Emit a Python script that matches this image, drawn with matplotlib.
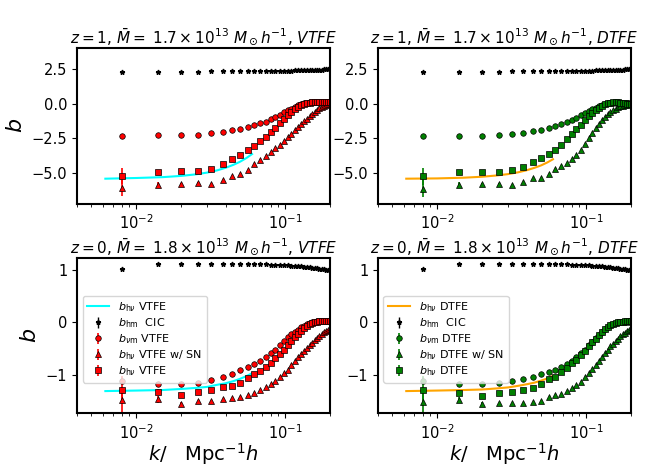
import numpy as np
import matplotlib
matplotlib.use("Agg")
import matplotlib.pyplot as plt

# k bins (h/Mpc)
k = [0.008, 0.014, 0.020, 0.026, 0.032, 0.038, 0.044, 0.050, 0.056, 0.062, 0.068,
     0.074, 0.080, 0.086, 0.092, 0.098, 0.104, 0.110, 0.116, 0.122, 0.128, 0.134,
     0.140, 0.146, 0.152, 0.158, 0.164, 0.170, 0.176, 0.182, 0.188, 0.194, 0.200]

# fit curve k values
k_fit = [0.0062, 0.01, 0.015, 0.02, 0.025, 0.03, 0.035, 0.04, 0.045, 0.05, 0.055, 0.06]

# z = 1
b_hm_z1 = [2.31, 2.31, 2.31, 2.31, 2.32, 2.32, 2.33, 2.33, 2.34, 2.34, 2.35, 2.35, 2.36,
           2.36, 2.37, 2.37, 2.38, 2.38, 2.39, 2.39, 2.40, 2.41, 2.41, 2.42, 2.42, 2.43,
           2.44, 2.44, 2.45, 2.46, 2.46, 2.47, 2.48]
b_vm_vtfe_z1 = [-2.31, -2.29, -2.29, -2.22, -2.12, -2.03, -1.93, -1.82, -1.67, -1.56, -1.42,
                -1.30, -1.13, -0.96, -0.80, -0.62, -0.48, -0.35, -0.22, -0.12, -0.03, 0.03,
                0.07, 0.09, 0.10, 0.10, 0.09, 0.08, 0.07, 0.06, 0.05, 0.05, 0.05]
b_hv_vtfe_z1 = [-5.21, -4.95, -4.88, -4.83, -4.67, -4.34, -4.01, -3.73, -3.37, -3.04, -2.69,
                -2.38, -2.03, -1.72, -1.42, -1.10, -0.82, -0.58, -0.38, -0.22, -0.10, -0.02,
                0.04, 0.08, 0.10, 0.11, 0.11, 0.11, 0.11, 0.11, 0.11, 0.11, 0.11]
b_hvsn_vtfe_z1 = [-6.08, -5.85, -5.80, -5.71, -5.75, -5.52, -5.20, -5.07, -4.75, -4.35, -4.05,
                  -3.80, -3.50, -3.22, -2.95, -2.68, -2.42, -2.17, -1.93, -1.70, -1.48, -1.27,
                  -1.07, -0.89, -0.73, -0.58, -0.45, -0.34, -0.25, -0.17, -0.10, -0.05, -0.01]
fit_vtfe_z1 = [-5.40, -5.35, -5.29, -5.20, -5.09, -4.96, -4.80, -4.61, -4.40, -4.17, -3.91, -3.63]

b_vm_dtfe_z1 = [-2.33, -2.31, -2.31, -2.26, -2.19, -2.10, -2.00, -1.89, -1.75, -1.60, -1.46,
                -1.32, -1.16, -1.00, -0.85, -0.70, -0.56, -0.42, -0.30, -0.19, -0.10, -0.03,
                0.02, 0.05, 0.07, 0.08, 0.07, 0.06, 0.05, 0.04, 0.03, 0.03, 0.03]
b_hv_dtfe_z1 = [-5.24, -4.95, -4.95, -4.90, -4.81, -4.53, -4.20, -3.92, -3.63, -3.30, -2.95,
                -2.55, -2.19, -1.84, -1.53, -1.18, -0.90, -0.66, -0.45, -0.28, -0.15, -0.05,
                0.02, 0.07, 0.10, 0.11, 0.10, 0.08, 0.05, 0.03, 0.01, 0.00, -0.01]
b_hvsn_dtfe_z1 = [-6.13, -5.83, -5.78, -5.78, -5.85, -5.61, -5.35, -5.33, -5.05, -4.72, -4.48,
                  -4.25, -4.00, -3.70, -3.30, -2.90, -2.50, -2.12, -1.78, -1.48, -1.20, -0.96,
                  -0.76, -0.60, -0.46, -0.35, -0.26, -0.19, -0.14, -0.10, -0.07, -0.05, -0.04]
fit_dtfe_z1 = [-5.40, -5.38, -5.33, -5.26, -5.17, -5.07, -4.94, -4.79, -4.62, -4.44, -4.23, -4.00]

# z = 0
b_hm_z0 = [1.01, 1.11, 1.115, 1.115, 1.115, 1.115, 1.11, 1.11, 1.11, 1.105, 1.10, 1.10, 1.095,
           1.09, 1.09, 1.085, 1.08, 1.075, 1.07, 1.065, 1.06, 1.055, 1.05, 1.045, 1.04, 1.035,
           1.03, 1.02, 1.015, 1.01, 1.00, 0.995, 0.99]
b_vm_vtfe_z0 = [-1.12, -1.17, -1.18, -1.15, -1.10, -1.04, -0.99, -0.91, -0.85, -0.80, -0.73,
                -0.67, -0.59, -0.52, -0.44, -0.36, -0.29, -0.23, -0.18, -0.14, -0.10, -0.07,
                -0.04, -0.02, 0.00, 0.01, 0.02, 0.02, 0.02, 0.02, 0.02, 0.02, 0.02]
b_hv_vtfe_z0 = [-1.28, -1.33, -1.38, -1.32, -1.28, -1.24, -1.21, -1.15, -1.07, -0.99, -0.92,
                -0.85, -0.77, -0.69, -0.61, -0.52, -0.43, -0.35, -0.28, -0.22, -0.16, -0.11,
                -0.07, -0.04, -0.02, 0.00, 0.01, 0.02, 0.02, 0.03, 0.03, 0.03, 0.03]
b_hvsn_vtfe_z0 = [-1.48, -1.47, -1.55, -1.50, -1.50, -1.47, -1.45, -1.42, -1.39, -1.34, -1.28,
                  -1.23, -1.18, -1.11, -1.04, -0.97, -0.90, -0.82, -0.74, -0.67, -0.61, -0.55,
                  -0.49, -0.44, -0.39, -0.34, -0.30, -0.26, -0.22, -0.19, -0.16, -0.14, -0.12]
fit_vtfe_z0 = [-1.31, -1.30, -1.29, -1.27, -1.25, -1.23, -1.19, -1.16, -1.12, -1.075, -1.025, -0.97]

b_vm_dtfe_z0 = [-1.12, -1.17, -1.18, -1.16, -1.11, -1.08, -1.04, -0.98, -0.94, -0.90, -0.85,
                -0.80, -0.74, -0.67, -0.59, -0.52, -0.44, -0.37, -0.30, -0.24, -0.18, -0.13,
                -0.09, -0.06, -0.03, -0.01, 0.00, 0.01, 0.01, 0.01, 0.01, 0.01, 0.01]
b_hv_dtfe_z0 = [-1.28, -1.34, -1.40, -1.34, -1.32, -1.29, -1.26, -1.17, -1.08, -1.04, -0.94,
                -0.87, -0.78, -0.71, -0.63, -0.54, -0.46, -0.38, -0.31, -0.24, -0.18, -0.13,
                -0.09, -0.05, -0.03, -0.01, 0.00, 0.01, 0.01, 0.02, 0.02, 0.02, 0.02]
b_hvsn_dtfe_z0 = [-1.52, -1.48, -1.56, -1.54, -1.54, -1.54, -1.52, -1.50, -1.43, -1.39, -1.36,
                  -1.31, -1.25, -1.20, -1.13, -1.05, -0.97, -0.89, -0.81, -0.73, -0.66, -0.59,
                  -0.52, -0.46, -0.41, -0.36, -0.31, -0.27, -0.23, -0.20, -0.17, -0.15, -0.13]
fit_dtfe_z0 = [-1.31, -1.30, -1.29, -1.28, -1.26, -1.24, -1.21, -1.18, -1.15, -1.11, -1.07, -1.02]

# errors on the lowest k bins (the rest are hidden under the markers)
err_hv_z1 = [0.6, 0.2, 0.1, 0.08]
err_vm_z1 = [0.1, 0.05]
err_hm_z1 = [0.05]
err_hv_z0 = [0.25, 0.06, 0.04]
err_vm_z0 = [0.08, 0.03]
err_hm_z0 = [0.02]


def pad(e):
    return np.r_[e, np.zeros(len(k) - len(e))]


panels = [
    (0, 0, "1", "1.7", "VTFE", "red", "cyan", b_hm_z1, b_vm_vtfe_z1, b_hvsn_vtfe_z1, b_hv_vtfe_z1, fit_vtfe_z1),
    (0, 1, "1", "1.7", "DTFE", "green", "orange", b_hm_z1, b_vm_dtfe_z1, b_hvsn_dtfe_z1, b_hv_dtfe_z1, fit_dtfe_z1),
    (1, 0, "0", "1.8", "VTFE", "red", "cyan", b_hm_z0, b_vm_vtfe_z0, b_hvsn_vtfe_z0, b_hv_vtfe_z0, fit_vtfe_z0),
    (1, 1, "0", "1.8", "DTFE", "green", "orange", b_hm_z0, b_vm_dtfe_z0, b_hvsn_dtfe_z0, b_hv_dtfe_z0, fit_dtfe_z0),
]

fig, axes = plt.subplots(2, 2, figsize=(6.64, 4.76), dpi=100)
plt.subplots_adjust(left=0.116, right=0.950, top=0.899, bottom=0.132, wspace=0.19, hspace=0.346)

for row, col, z, m, est, c, lc, hm, vm, hvsn, hv, fit in panels:
    ax = axes[row, col]
    if z == "1":
        ehv, evm, ehm = err_hv_z1, err_vm_z1, err_hm_z1
    else:
        ehv, evm, ehm = err_hv_z0, err_vm_z0, err_hm_z0

    ax.plot(k_fit, fit, color=lc, lw=1.5, label=r"$b_{\mathrm{h}\nu}$ " + est)
    ax.errorbar(k, hm, yerr=pad(ehm), fmt="*", color="k", ms=3.5, lw=1,
                label=r"$b_{\mathrm{hm}}$  CIC")
    ax.errorbar(k, vm, yerr=pad(evm), fmt="o", mfc=c, mec="k", mew=0.5, ecolor=c, ms=4, lw=1.2,
                label=r"$b_{\nu\mathrm{m}}$ " + est)
    ax.errorbar(k, hvsn, yerr=pad(ehv), fmt="^", mfc=c, mec="k", mew=0.5, ecolor=c, ms=4.5, lw=1.2,
                label=r"$b_{\mathrm{h}\nu}$ " + est + " w/ SN")
    ax.errorbar(k, hv, yerr=pad(ehv), fmt="s", mfc=c, mec="k", mew=0.5, ecolor=c, ms=5, lw=1.2,
                label=r"$b_{\mathrm{h}\nu}$ " + est)

    ax.set_xscale("log")
    ax.set_xlim(0.004, 0.2)
    if row == 0:
        ax.set_ylim(-7.2, 4.0)
        ax.set_yticks([-5, -2.5, 0, 2.5])
    else:
        ax.set_ylim(-1.73, 1.23)
        ax.set_yticks([-1, 0, 1])
        ax.set_xlabel(r"$k/$   Mpc$^{-1}h$", fontsize=14, labelpad=0)
        ax.legend(loc="upper left", bbox_to_anchor=(0.0, 0.79), fontsize=8,
                  handlelength=2.0, labelspacing=0.2, borderaxespad=0.5)
    if col == 0:
        ax.set_ylabel(r"$b$", fontsize=16)
    ax.set_title(r"$z=%s$, $\bar{M}=$ $%s\times10^{13}\ M_\odot h^{-1}$, $%s$" % (z, m, est),
                 fontsize=11, pad=3)
    ax.tick_params(labelsize=10.5)
    for s in ax.spines.values():
        s.set_linewidth(1.5)

fig.savefig("out.png", dpi=100)
